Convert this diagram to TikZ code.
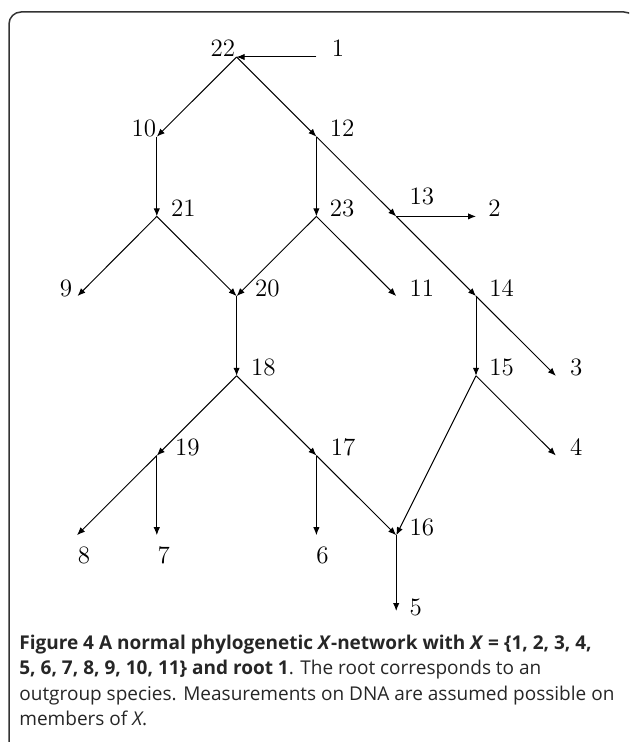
\documentclass[tikz,border=0pt]{standalone}
\usepackage{fontspec}
\newfontfamily\capfont{Open Sans}
\usetikzlibrary{arrows.meta}
\begin{document}
\begin{tikzpicture}[x=0.5pt,y=-0.5pt,
  edge/.style={-{Latex[length=4pt,width=3.2pt]}, line width=0.5pt},
  lab/.style={font=\fontsize{12.5}{15}\selectfont, inner sep=0pt},
  capline/.style={font=\capfont\fontsize{9.5}{12}\selectfont, inner sep=0pt, anchor=base west, text=black!85},
  frame/.style={draw=black!80, line width=0.75pt, rounded corners=6pt}]
\useasboundingbox (0,0) rectangle (629,742);
% frame
\begin{scope}
\clip (0,0) rectangle (629,742);
\draw[frame] (9,760) -- (9,12) -- (636,12) -- (636,760);
\end{scope}
% vertices
\coordinate (v22) at (236.6,57);
\coordinate (v1)  at (316.4,57);
\coordinate (v10) at (156.8,136.7);
\coordinate (v12) at (316.4,136.7);
\coordinate (v21) at (156.8,216.4);
\coordinate (v23) at (316.4,216.4);
\coordinate (v13) at (396.2,216.4);
\coordinate (v2)  at (476,216.4);
\coordinate (v9)  at (77.5,296.1);
\coordinate (v20) at (236.6,296.1);
\coordinate (v11) at (396.2,296.1);
\coordinate (v14) at (476,296.1);
\coordinate (v18) at (236.6,375.8);
\coordinate (v15) at (476,375.8);
\coordinate (v3)  at (555.8,375.8);
\coordinate (v19) at (156.8,455.5);
\coordinate (v17) at (316.4,455.5);
\coordinate (v4)  at (555.8,455.5);
\coordinate (v8)  at (77,535.2);
\coordinate (v7)  at (156.8,535.2);
\coordinate (v6)  at (316.4,535.2);
\coordinate (v16) at (396.2,535.2);
\coordinate (v5)  at (396.2,611);
% edges
\draw[edge] (v1) -- (v22);
\draw[edge] (v22) -- (v10);
\draw[edge] (v22) -- (v12);
\draw[edge] (v10) -- (v21);
\draw[edge] (v12) -- (v23);
\draw[edge] (v12) -- (v13);
\draw[edge] (v13) -- (v2);
\draw[edge] (v13) -- (v14);
\draw[edge] (v14) -- (v3);
\draw[edge] (v14) -- (v15);
\draw[edge] (v21) -- (v9);
\draw[edge] (v21) -- (v20);
\draw[edge] (v23) -- (v20);
\draw[edge] (v23) -- (v11);
\draw[edge] (v20) -- (v18);
\draw[edge] (v18) -- (v19);
\draw[edge] (v18) -- (v17);
\draw[edge] (v19) -- (v8);
\draw[edge] (v19) -- (v7);
\draw[edge] (v17) -- (v6);
\draw[edge] (v17) -- (v16);
\draw[edge] (v15) -- (v16);
\draw[edge] (v15) -- (v4);
\draw[edge] (v16) -- (v5);
% labels
\node[lab, anchor=base east] (l22) at ([xshift=-0.5pt]v22) {22};
\node[lab, anchor=base west] (l1)  at ([xshift=7.5pt]v1) {1};
\node[lab, anchor=base east] (l10) at ([xshift=-0.2pt]v10) {10};
\node[lab, anchor=base west] (l12) at ([xshift=6.5pt]v12) {12};
\node[lab, anchor=base west] (l21) at ([xshift=7pt]v21) {21};
\node[lab, anchor=base west] (l23) at ([xshift=6.5pt]v23) {23};
\node[lab, anchor=base west] (l13) at ([xshift=6.5pt,yshift=6pt]v13) {13};
\node[lab, anchor=base west] (l2)  at ([xshift=6pt]v2) {2};
\node[lab, anchor=base east] (l9)  at ([xshift=-2.5pt]v9) {9};
\node[lab, anchor=base west] (l20) at ([xshift=9pt]v20) {20};
\node[lab, anchor=base west] (l11) at ([xshift=6.5pt]v11) {11};
\node[lab, anchor=base west] (l14) at ([xshift=6.5pt]v14) {14};
\node[lab, anchor=base west] (l18) at ([xshift=7pt]v18) {18};
\node[lab, anchor=base west] (l15) at ([xshift=6.5pt]v15) {15};
\node[lab, anchor=base west] (l3)  at ([xshift=7pt]v3) {3};
\node[lab, anchor=base west] (l4)  at ([xshift=7pt]v4) {4};
\node[lab, anchor=base west] (l19) at ([xshift=9pt]v19) {19};
\node[lab, anchor=base west] (l17) at ([xshift=7pt]v17) {17};
\node[lab, anchor=base west] (l16) at ([xshift=6.5pt]v16) {16};
\node[lab, anchor=base] (l8) at ([xshift=3.5pt,yshift=-14pt]v8) {8};
\node[lab, anchor=base] (l7) at ([xshift=3.5pt,yshift=-14pt]v7) {7};
\node[lab, anchor=base] (l6) at ([xshift=3pt,yshift=-14pt]v6) {6};
\node[lab, anchor=base west] (l5) at ([xshift=6.5pt,yshift=-2pt]v5) {5};
% caption
\node[capline] (c1) at (19,649) {\textbf{Figure 4 A normal phylogenetic \textit{X}-network with \textit{X} = \{1, 2, 3, 4,}};
\node[capline] (c2) at (19,674.5) {\textbf{5, 6, 7, 8, 9, 10, 11\} and root 1}. The root corresponds to an};
\node[capline] (c3) at (19,700) {outgroup species. Measurements on DNA are assumed possible on};
\node[capline] (c4) at (19,725.5) {members of \textit{X}.};
\end{tikzpicture}
\end{document}
